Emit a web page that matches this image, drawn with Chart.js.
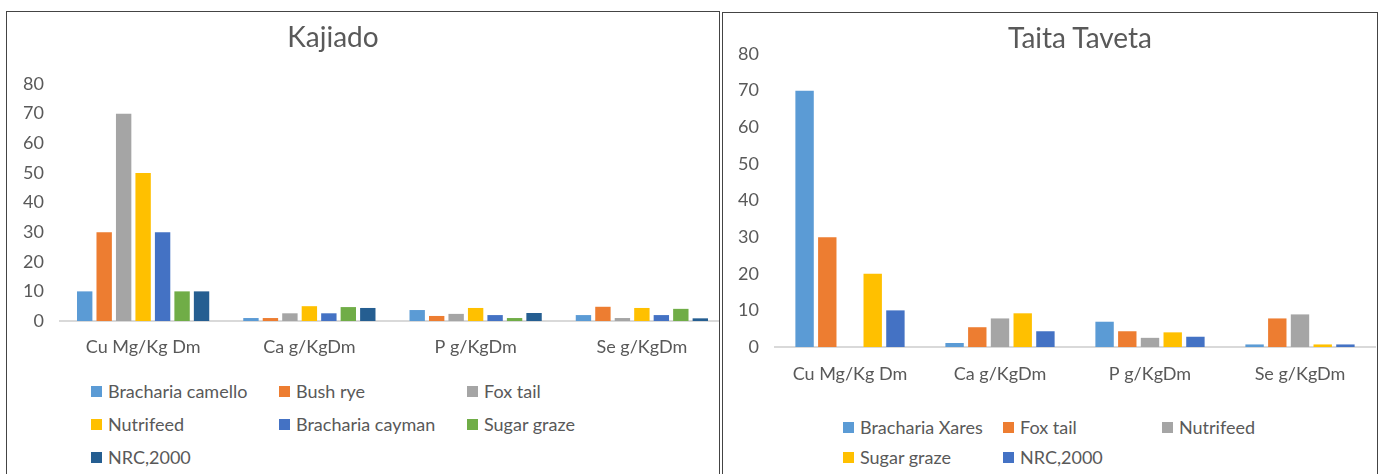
<!DOCTYPE html>
<html>
<head>
<meta charset="utf-8">
<script src="https://cdn.jsdelivr.net/npm/chart.js@4.4.0/dist/chart.umd.min.js"></script>
<style>
  html, body { margin: 0; padding: 0; background: #fff; }
  body { width: 1385px; height: 474px; position: relative; overflow: hidden; font-family: Lato, 'Open Sans', sans-serif; color: #595959; }
  .panel { position: absolute; border: 1px solid #444; border-bottom: none; overflow: hidden; box-sizing: border-box; background: #fff; }
  .box { position: absolute; left: 0; top: 0; }
  .title { position: absolute; font-size: 28px; transform: translate(-50%, -50%); white-space: nowrap; }
  .leg { position: absolute; font-size: 18px; white-space: nowrap; transform: translateY(-50%); display: flex; align-items: center; }
  .leg i { display: inline-block; width: 11px; height: 11px; margin-right: 6px; }
</style>
</head>
<body>
<div class="panel" id="p1" style="left:6px;top:11px;width:714px;height:470px">
  <div class="box" style="width:730px;height:360px"><canvas id="c1"></canvas></div>
</div>
<div class="panel" id="p2" style="left:722px;top:12px;width:656px;height:470px">
  <div class="box" style="width:660px;height:400px"><canvas id="c2"></canvas></div>
</div>
<script>
const CATEGORIES = ['Cu Mg/Kg Dm', 'Ca g/KgDm', 'P g/KgDm', 'Se g/KgDm'];
const Y_TICKS = [0, 10, 20, 30, 40, 50, 60, 70, 80];

// Kajiado
const K_NAMES = ['Bracharia camello', 'Bush rye', 'Fox tail', 'Nutrifeed', 'Bracharia cayman', 'Sugar graze', 'NRC,2000'];
const K_BRACHARIA_CAMELLO = [10, 1, 3.7, 2];
const K_BUSH_RYE = [30, 1, 1.7, 4.8];
const K_FOX_TAIL = [70, 2.6, 2.4, 1];
const K_NUTRIFEED = [50, 5, 4.4, 4.4];
const K_BRACHARIA_CAYMAN = [30, 2.6, 2, 2];
const K_SUGAR_GRAZE = [10, 4.7, 1, 4.1];
const K_NRC = [10, 4.4, 2.7, 0.9];

// Taita Taveta
const T_NAMES = ['Bracharia Xares', 'Fox tail', 'Nutrifeed', 'Sugar graze', 'NRC,2000'];
const T_BRACHARIA_XARES = [70, 1.1, 6.9, 0.7];
const T_FOX_TAIL = [30, 5.4, 4.3, 7.8];
const T_NUTRIFEED = [null, 7.8, 2.5, 8.9];
const T_SUGAR_GRAZE = [20, 9.2, 4, 0.7];
const T_NRC = [10, 4.3, 2.8, 0.7];

const K_COLORS = ['#5B9BD5', '#ED7D31', '#A5A5A5', '#FFC000', '#4472C4', '#70AD47', '#255E91'];
const T_COLORS = ['#5B9BD5', '#ED7D31', '#A5A5A5', '#FFC000', '#4472C4'];

const FONT = "Lato, 'Open Sans', sans-serif";
const GREY = '#595959';

function buildChart(canvasId, names, series, colors, geo) {
  const ctx = document.getElementById(canvasId).getContext('2d');
  return new Chart(ctx, {
    type: 'bar',
    data: {
      labels: CATEGORIES,
      datasets: series.map((values, index) => ({
        label: names[index],
        data: values,
        backgroundColor: colors[index],
        borderWidth: 0,
        categoryPercentage: geo.cat,
        barPercentage: geo.bar,
      })),
    },
    options: {
      responsive: true,
      maintainAspectRatio: false,
      animation: false,
      layout: { padding: { left: 0, right: geo.padRight, top: geo.padTop, bottom: 0 } },
      plugins: { legend: { display: false }, title: { display: false }, tooltip: { enabled: false } },
      scales: {
        x: {
          grid: { display: false, drawTicks: false },
          border: { display: true, color: '#D9D9D9', width: 2 },
          ticks: { color: GREY, font: { family: FONT, size: 18 }, padding: geo.xPad, maxRotation: 0 },
          afterFit: (scale) => { scale.height = geo.xHeight; },
        },
        y: {
          min: 0,
          max: 80,
          afterBuildTicks: (scale) => { scale.ticks = Y_TICKS.map((value) => ({ value })); },
          grid: { display: false, drawTicks: false },
          border: { display: false },
          ticks: { color: GREY, font: { family: FONT, size: 18 }, padding: geo.yPad },
          afterFit: (scale) => { scale.width = geo.yWidth; },
        },
      },
    },
  });
}

function addText(panel, cls, x, y, html) {
  const el = document.createElement('div');
  el.className = cls;
  el.style.left = x + 'px';
  el.style.top = y + 'px';
  el.innerHTML = html;
  panel.appendChild(el);
}

function addLegend(panel, names, colors, cols, rows, origin) {
  names.forEach((name, index) => {
    const x = cols[index % cols.length] - origin.x;
    const y = rows[Math.floor(index / cols.length)] - origin.y;
    addText(panel, 'leg', x, y, `<i style="background:${colors[index]}"></i>${name}`);
  });
}

// page origin of each panel's inner box is (left + 1, top + 1)
buildChart('c1', K_NAMES,
  [K_BRACHARIA_CAMELLO, K_BUSH_RYE, K_FOX_TAIL, K_NUTRIFEED, K_BRACHARIA_CAYMAN, K_SUGAR_GRAZE, K_NRC],
  K_COLORS,
  { cat: 0.82, bar: 0.79, padTop: 72, padRight: 12, xHeight: 51, yWidth: 53, xPad: 15, yPad: 16 });

buildChart('c2', T_NAMES,
  [T_BRACHARIA_XARES, T_FOX_TAIL, T_NUTRIFEED, T_SUGAR_GRAZE, T_NRC],
  T_COLORS,
  { cat: 0.757, bar: 0.81, padTop: 41, padRight: 8, xHeight: 66, yWidth: 52, xPad: 16, yPad: 16 });

const p1 = document.getElementById('p1');
const p2 = document.getElementById('p2');
addText(p1, 'title', 333 - 7, 36 - 12, 'Kajiado');
addText(p2, 'title', 1080 - 723, 37 - 13, 'Taita Taveta');
addLegend(p1, K_NAMES, K_COLORS, [91, 279, 467], [391, 424, 457], { x: 7, y: 12 });
addLegend(p2, T_NAMES, T_COLORS, [843, 1003, 1162], [427, 457], { x: 723, y: 13 });
</script>
</body>
</html>
